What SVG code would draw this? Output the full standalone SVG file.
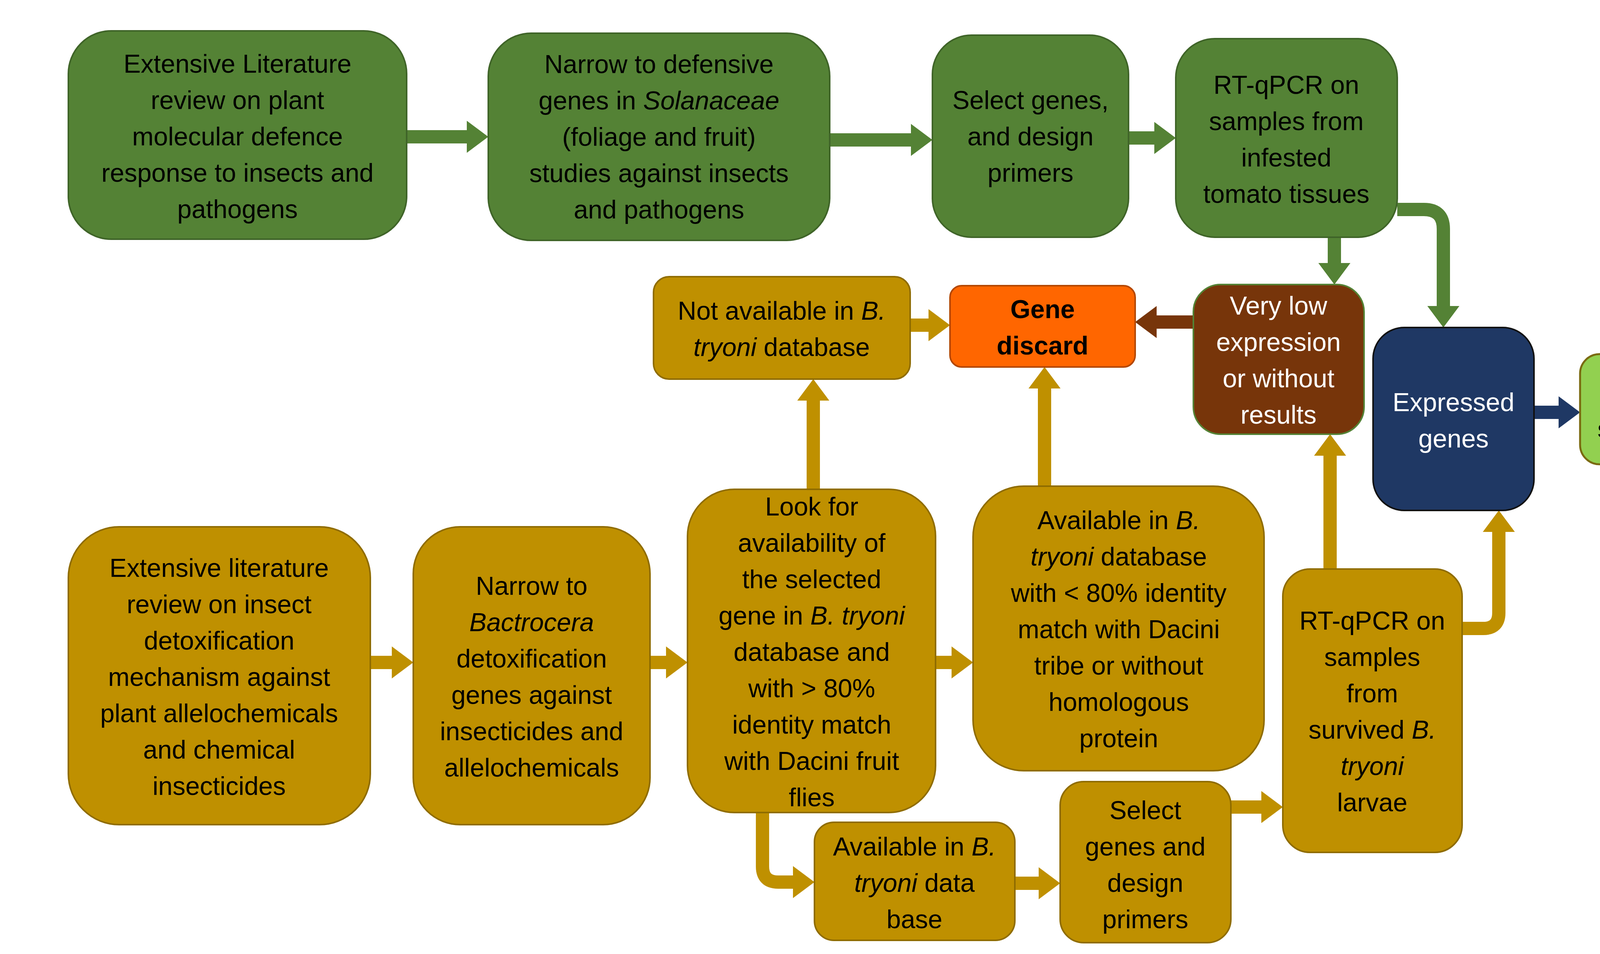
<svg xmlns="http://www.w3.org/2000/svg" width="4409" height="2441" viewBox="0 0 4409 2441">
<defs>
<style>
text{font-family:"Liberation Sans",Arial,sans-serif;font-size:66px;text-anchor:middle;fill:#000}
.g{fill:#548235;stroke:#3f6428;stroke-width:4}
.y{fill:#BF9000;stroke:#8f6c00;stroke-width:4}
.w{fill:#fff}
.b{font-weight:bold}
.c line,.c path{fill:none;stroke-width:34}
</style>
<marker id="ag" markerUnits="userSpaceOnUse" markerWidth="60" markerHeight="90" viewBox="0 -45 60 90" refX="2" refY="0" orient="auto"><path d="M0,-41L55,0L0,41z" fill="#548235"/></marker>
<marker id="ay" markerUnits="userSpaceOnUse" markerWidth="60" markerHeight="90" viewBox="0 -45 60 90" refX="2" refY="0" orient="auto"><path d="M0,-41L55,0L0,41z" fill="#BF9000"/></marker>
<marker id="ab" markerUnits="userSpaceOnUse" markerWidth="60" markerHeight="90" viewBox="0 -45 60 90" refX="2" refY="0" orient="auto"><path d="M0,-41L55,0L0,41z" fill="#77350A"/></marker>
<marker id="an" markerUnits="userSpaceOnUse" markerWidth="60" markerHeight="90" viewBox="0 -45 60 90" refX="2" refY="0" orient="auto"><path d="M0,-41L55,0L0,41z" fill="#1F3864"/></marker>
</defs>
<rect width="4409" height="2441" fill="#fff"/>
<g class="c" id="connectors">
<line x1="1041" y1="350" x2="1197" y2="350" stroke="#548235" marker-end="url(#ag)"/>
<line x1="2124" y1="358" x2="2334" y2="358" stroke="#548235" marker-end="url(#ag)"/>
<line x1="2889" y1="353" x2="2957" y2="353" stroke="#548235" marker-end="url(#ag)"/>
<line x1="3416" y1="607" x2="3416" y2="675" stroke="#548235" marker-end="url(#ag)"/>
<path d="M3577,536H3645Q3695,536 3695,586V785" stroke="#548235" marker-end="url(#ag)"/>
<line x1="3055" y1="824" x2="2959" y2="824" stroke="#77350A" marker-end="url(#ab)"/>
<line x1="2330" y1="832" x2="2379" y2="832" stroke="#BF9000" marker-end="url(#ay)"/>
<line x1="2082" y1="1252" x2="2082" y2="1023" stroke="#BF9000" marker-end="url(#ay)"/>
<line x1="2674" y1="1244" x2="2674" y2="992" stroke="#BF9000" marker-end="url(#ay)"/>
<line x1="3405" y1="1456" x2="3405" y2="1164" stroke="#BF9000" marker-end="url(#ay)"/>
<path d="M3743,1608H3797Q3837,1608 3837,1568V1359" stroke="#BF9000" marker-end="url(#ay)"/>
<line x1="3927" y1="1055" x2="3992" y2="1055" stroke="#1F3864" marker-end="url(#an)"/>
<line x1="948" y1="1695" x2="1005" y2="1695" stroke="#BF9000" marker-end="url(#ay)"/>
<line x1="1664" y1="1695" x2="1707" y2="1695" stroke="#BF9000" marker-end="url(#ay)"/>
<line x1="2395" y1="1695" x2="2438" y2="1695" stroke="#BF9000" marker-end="url(#ay)"/>
<path d="M1952,2079V2217Q1952,2257 1992,2257H2032" stroke="#BF9000" marker-end="url(#ay)"/>
<line x1="2598" y1="2260" x2="2661" y2="2260" stroke="#BF9000" marker-end="url(#ay)"/>
<line x1="3151" y1="2065" x2="3231" y2="2065" stroke="#BF9000" marker-end="url(#ay)"/>
</g>
<g id="n1"><rect class="g" x="175" y="79" width="866" height="533" rx="110"/><text y="186"><tspan x="608">Extensive Literature</tspan><tspan x="608" dy="93">review on plant</tspan><tspan x="608" dy="93">molecular defence</tspan><tspan x="608" dy="93">response to insects and</tspan><tspan x="608" dy="93">pathogens</tspan></text></g>
<g id="n2"><rect class="g" x="1250" y="85" width="874" height="530" rx="110"/><text y="187"><tspan x="1687">Narrow to defensive</tspan><tspan x="1687" dy="93">genes in <tspan font-style="italic">Solanaceae</tspan></tspan><tspan x="1687" dy="93">(foliage and fruit)</tspan><tspan x="1687" dy="93">studies against insects</tspan><tspan x="1687" dy="93">and pathogens</tspan></text></g>
<g id="n3"><rect class="g" x="2387" y="90" width="502" height="517" rx="100"/><text y="279"><tspan x="2638">Select genes,</tspan><tspan x="2638" dy="93">and design</tspan><tspan x="2638" dy="93">primers</tspan></text></g>
<g id="n4"><rect class="g" x="3010" y="99" width="567" height="508" rx="100"/><text y="240"><tspan x="3293">RT-qPCR on</tspan><tspan x="3293" dy="93">samples from</tspan><tspan x="3293" dy="93">infested</tspan><tspan x="3293" dy="93">tomato tissues</tspan></text></g>
<g id="n5"><rect class="y" x="1673" y="708" width="657" height="262" rx="40"/><text y="818"><tspan x="2001">Not available in <tspan font-style="italic">B.</tspan></tspan><tspan x="2001" dy="93"><tspan font-style="italic">tryoni</tspan> database</tspan></text></g>
<g id="n6"><rect x="2432" y="731" width="474" height="208" rx="30" fill="#FF6600" stroke="#b34700" stroke-width="4"/><text class="b" y="814"><tspan x="2669">Gene</tspan><tspan x="2669" dy="93">discard</tspan></text></g>
<g id="n7"><rect x="3055" y="728" width="437" height="383" rx="70" fill="#77350A" stroke="#548235" stroke-width="4"/><text class="w" y="805"><tspan x="3273">Very low</tspan><tspan x="3273" dy="93">expression</tspan><tspan x="3273" dy="93">or without</tspan><tspan x="3273" dy="93">results</tspan></text></g>
<g id="n8"><rect x="3515" y="838" width="412" height="468" rx="80" fill="#1F3864" stroke="#111" stroke-width="4"/><text class="w" y="1052"><tspan x="3721">Expressed</tspan><tspan x="3721" dy="93">genes</tspan></text></g>
<g id="n9"><rect x="4045" y="906" width="353" height="282" rx="50" fill="#92D050" stroke="#7a6a10" stroke-width="5"/><text class="b" y="1027"><tspan x="4221">Gene</tspan><tspan x="4221" dy="93">selected</tspan></text></g>
<g id="n10"><rect class="y" x="175" y="1348" width="773" height="762" rx="130"/><text y="1476"><tspan x="561">Extensive literature</tspan><tspan x="561" dy="93">review on insect</tspan><tspan x="561" dy="93">detoxification</tspan><tspan x="561" dy="93">mechanism against</tspan><tspan x="561" dy="93">plant allelochemicals</tspan><tspan x="561" dy="93">and chemical</tspan><tspan x="561" dy="93">insecticides</tspan></text></g>
<g id="n11"><rect class="y" x="1058" y="1348" width="606" height="762" rx="120"/><text y="1522"><tspan x="1361">Narrow to</tspan><tspan x="1361" dy="93" font-style="italic">Bactrocera</tspan><tspan x="1361" dy="93">detoxification</tspan><tspan x="1361" dy="93">genes against</tspan><tspan x="1361" dy="93">insecticides and</tspan><tspan x="1361" dy="93">allelochemicals</tspan></text></g>
<g id="n12"><rect class="y" x="1760" y="1252" width="635" height="827" rx="120"/><text y="1319"><tspan x="2078">Look for</tspan><tspan x="2078" dy="93">availability of</tspan><tspan x="2078" dy="93">the selected</tspan><tspan x="2078" dy="93">gene in <tspan font-style="italic">B. tryoni</tspan></tspan><tspan x="2078" dy="93">database and</tspan><tspan x="2078" dy="93">with &gt; 80%</tspan><tspan x="2078" dy="93">identity match</tspan><tspan x="2078" dy="93">with Dacini fruit</tspan><tspan x="2078" dy="93">flies</tspan></text></g>
<g id="n13"><rect class="y" x="2491" y="1244" width="745" height="728" rx="130"/><text y="1354"><tspan x="2864">Available in <tspan font-style="italic">B.</tspan></tspan><tspan x="2864" dy="93"><tspan font-style="italic">tryoni</tspan> database</tspan><tspan x="2864" dy="93">with &lt; 80% identity</tspan><tspan x="2864" dy="93">match with Dacini</tspan><tspan x="2864" dy="93">tribe or without</tspan><tspan x="2864" dy="93">homologous</tspan><tspan x="2864" dy="93">protein</tspan></text></g>
<g id="n14"><rect class="y" x="3284" y="1456" width="459" height="725" rx="70"/><text y="1611"><tspan x="3513">RT-qPCR on</tspan><tspan x="3513" dy="93">samples</tspan><tspan x="3513" dy="93">from</tspan><tspan x="3513" dy="93">survived <tspan font-style="italic">B.</tspan></tspan><tspan x="3513" dy="93" font-style="italic">tryoni</tspan><tspan x="3513" dy="93">larvae</tspan></text></g>
<g id="n15"><rect class="y" x="2085" y="2104" width="513" height="302" rx="50"/><text y="2189"><tspan x="2341">Available in <tspan font-style="italic">B.</tspan></tspan><tspan x="2341" dy="93"><tspan font-style="italic">tryoni</tspan> data</tspan><tspan x="2341" dy="93">base</tspan></text></g>
<g id="n16"><rect class="y" x="2714" y="2000" width="437" height="412" rx="60"/><text y="2096"><tspan x="2932">Select</tspan><tspan x="2932" dy="93">genes and</tspan><tspan x="2932" dy="93">design</tspan><tspan x="2932" dy="93">primers</tspan></text></g>
</svg>
